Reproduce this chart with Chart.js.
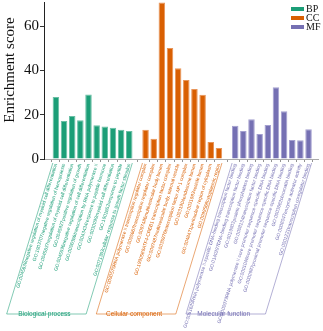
<!DOCTYPE html>
<html>
<head>
<meta charset="utf-8">
<title>GO enrichment</title>
<script src="https://cdn.jsdelivr.net/npm/chart.js@4.4.1/dist/chart.umd.min.js"></script>
<style>
  html, body { margin: 0; padding: 0; background: #fff; }
  canvas { display: block; }
</style>
</head>
<body>
<canvas id="goChart" width="323" height="331"></canvas>
<script>
// DATA
const groups = ['BP', 'CC', 'MF'];
const groupNames = ['Biological process', 'Cellular component', 'Molecular function'];
const groupColors = ['#1B9E77', '#D95F02', '#7570B3'];
const groupEdges = ['#69bfa5', '#e8955a', '#a4a0d0'];

const bpTerms = [
  'GO:0045638negative regulation of myeloid cell differentiation',
  'GO:1903707negative regulation of hemopoiesis',
  'GO:0045637regulation of myeloid cell differentiation',
  'GO:0045927positive regulation of growth',
  'GO:0045596negative regulation of cell differentiation',
  'GO:0006366transcription by RNA polymerase II',
  'GO:0043434response to peptide hormone',
  'GO:0030099myeloid cell differentiation',
  'GO:1901652response to peptide',
  'GO:0071363cellular response to growth factor stimulus'
];
const bpScores = [28.0, 17.2, 19.4, 17.5, 29.2, 15.3, 14.7, 14.1, 13.2, 12.7];

const ccTerms = [
  'GO:0090575RNA polymerase II transcription regulator complex',
  'GO:0005667transcription regulator complex',
  'GO:0097486multivesicular body lumen',
  'GO:1990589ATF4-CREB1 transcription factor complex',
  'GO:0097487multivesicular body, internal vesicle',
  'GO:0035976transcription factor AP-1 complex',
  'GO:0031904endosome lumen',
  'GO:0031983vesicle lumen',
  'GO:0048471perinuclear region of cytoplasm',
  'GO:0099568cytoplasmic region'
];
const ccScores = [13.2, 9.2, 70.8, 50.2, 41.0, 35.7, 31.7, 29.0, 7.7, 5.0];

const mfTerms = [
  'GO:0061629RNA polymerase II-specific DNA-binding transcription factor binding',
  'GO:0140297DNA-binding transcription factor binding',
  'GO:0019903protein phosphatase binding',
  'GO:0008134transcription factor binding',
  'GO:0000979RNA polymerase II core promoter sequence-specific DNA binding',
  'GO:0001046core promoter sequence-specific DNA binding',
  'GO:0000987proximal promoter sequence-specific DNA binding',
  'GO:0003682chromatin binding',
  'GO:0008047enzyme activator activity',
  'GO:0001221transcription coregulator binding'
];
const mfScores = [15.0, 12.7, 18.0, 11.3, 15.4, 32.5, 21.6, 8.6, 8.5, 13.5];

const yTicks = [0, 20, 40, 60];

// one empty slot between the groups
const termLists = [bpTerms, ccTerms, mfTerms];
const scoreLists = [bpScores, ccScores, mfScores];
const labels = [];
const labelGroup = [];
const groupRange = [];
termLists.forEach((terms, g) => {
  if (g > 0) { labels.push(''); labelGroup.push(-1); }
  const start = labels.length;
  terms.forEach(t => { labels.push(t); labelGroup.push(g); });
  groupRange.push([start, labels.length - 1]);
});

const ROT = 73;
const serif = "'Liberation Serif', 'Times New Roman', serif";
const sans = "'Liberation Sans', Arial, sans-serif";

function fade(hex, a) {
  const n = parseInt(hex.slice(1), 16);
  return `rgba(${n >> 16},${(n >> 8) & 255},${n & 255},${a})`;
}

// boxes under the labels, group names, legend, y title
const decorations = {
  id: 'decorations',
  afterDraw(chart) {
    const { ctx, chartArea, scales: { x } } = chart;
    const half = (x.getPixelForValue(1) - x.getPixelForValue(0)) / 2;
    const top = x.top + 4;
    const bottom = 314;
    const shift = (bottom - top) / Math.tan(ROT * Math.PI / 180);

    groupRange.forEach(([a, b], g) => {
      const l = x.getPixelForValue(a) - half + 1;
      const r = x.getPixelForValue(b) + half - 1;
      ctx.save();
      ctx.strokeStyle = fade(groupColors[g], 0.55);
      ctx.lineWidth = 1;
      ctx.beginPath();
      ctx.moveTo(l, top);
      ctx.lineTo(l - shift, bottom);
      ctx.lineTo(r - shift, bottom);
      ctx.lineTo(r, top);
      ctx.stroke();
      ctx.fillStyle = groupColors[g];
      ctx.font = `6.5px ${sans}`;
      ctx.textAlign = 'center';
      ctx.textBaseline = 'middle';
      ctx.fillText(groupNames[g], (l + r) / 2 - shift - 2, bottom);
      ctx.restore();
    });

    // legend
    ctx.save();
    chart.data.datasets.forEach((ds, i) => {
      const y = chartArea.top + 7 + i * 9;
      ctx.fillStyle = ds.backgroundColor;
      ctx.fillRect(chartArea.right - 27, y - 2, 13, 4);
      ctx.fillStyle = '#111';
      ctx.font = `10px ${serif}`;
      ctx.textAlign = 'left';
      ctx.textBaseline = 'middle';
      ctx.fillText(ds.label, chartArea.right - 12, y + 0.5);
    });
    ctx.restore();

    // y title
    ctx.save();
    ctx.translate(10, 70);
    ctx.rotate(-Math.PI / 2);
    ctx.fillStyle = '#111';
    ctx.font = `15px ${serif}`;
    ctx.textAlign = 'center';
    ctx.textBaseline = 'middle';
    ctx.fillText('Enrichment score', 0, 0);
    ctx.restore();
  }
};

const datasets = groups.map((g, k) => ({
  label: g,
  data: scoreLists[k].map((v, i) => ({ x: groupRange[k][0] + i, y: v })),
  backgroundColor: groupColors[k],
  borderColor: groupEdges[k],
  borderWidth: 1,
  grouped: false,
  barPercentage: 0.8,
  categoryPercentage: 1
}));

new Chart(document.getElementById('goChart'), {
  type: 'bar',
  data: { datasets },
  options: {
    responsive: false,
    animation: false,
    layout: { padding: { top: 2, right: 5, left: 0, bottom: 0 } },
    plugins: { legend: { display: false }, tooltip: { enabled: false } },
    scales: {
      x: {
        type: 'linear',
        min: -0.9,
        max: 31.6,
        afterBuildTicks: s => {
          s.ticks = labels.map((t, i) => ({ value: i })).filter(t => labels[t.value]);
        },
        afterFit: s => { s.height = 172; s.paddingLeft = 0; s.paddingRight = 0; },
        ticks: {
          autoSkip: false,
          minRotation: ROT,
          maxRotation: ROT,
          padding: 1,
          callback: v => labels[v] || '',
          color: c => groupColors[labelGroup[c.tick.value]] || '#666',
          font: { family: sans, size: 4.8 }
        },
        grid: { drawOnChartArea: false, tickLength: 3, tickColor: '#666', tickWidth: 0.7 },
        border: { color: '#aaa', width: 1 }
      },
      y: {
        min: 0,
        max: 71,
        afterBuildTicks: s => { s.ticks = yTicks.map(v => ({ value: v })); },
        afterFit: s => { s.width = 44; s.paddingTop = 0; s.paddingBottom = 0; },
        ticks: { padding: 1, color: '#111', font: { family: serif, size: 15 } },
        grid: { drawOnChartArea: false, tickLength: 4, tickColor: '#333' },
        border: { color: '#222', width: 1 }
      }
    }
  },
  plugins: [decorations]
});
</script>
</body>
</html>
